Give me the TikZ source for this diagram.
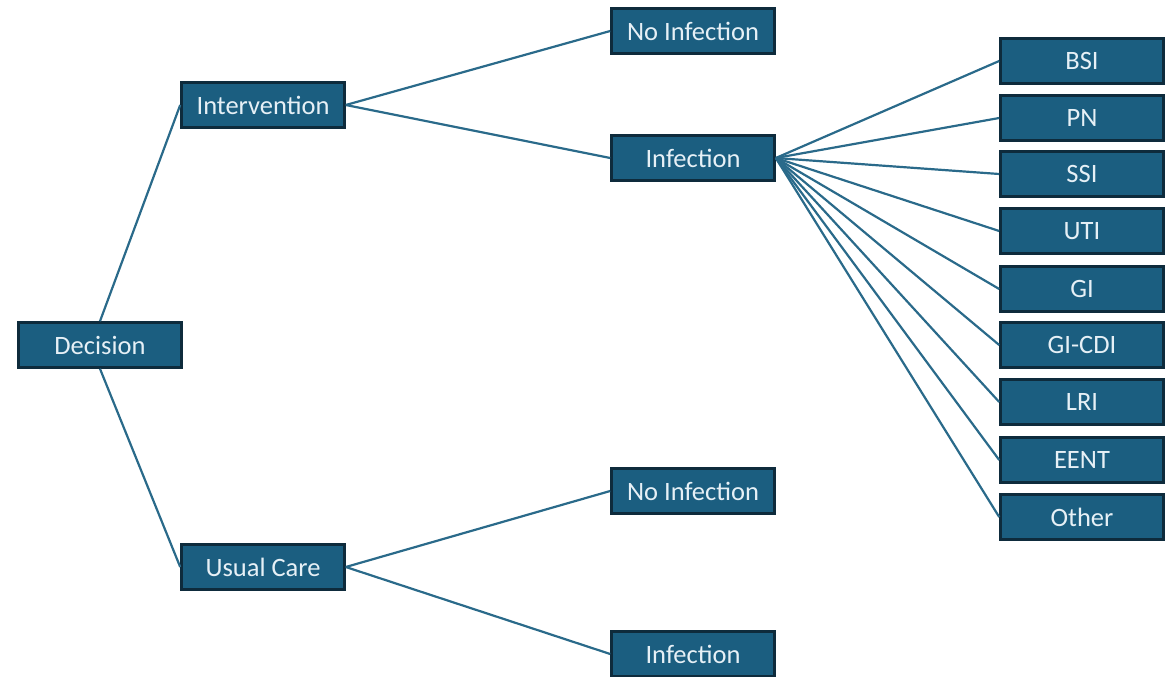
\documentclass[tikz,border=0pt]{standalone}
\usepackage{fontspec}
\setmainfont{Carlito}
\definecolor{boxfill}{HTML}{1B5E80}
\definecolor{boxedge}{HTML}{0E2B3C}
\definecolor{boxtext}{HTML}{E6F0F6}
\definecolor{linkc}{HTML}{2A6A8A}
\tikzset{
  box/.style={draw=boxedge, line width=2.6pt, fill=boxfill, text=boxtext,
    minimum width=163pt, minimum height=45pt, inner sep=0pt,
    font=\fontsize{26.5}{30}\selectfont},
  link/.style={draw=linkc, line width=2.2pt},
}
\begin{document}
\begin{tikzpicture}[x=1pt,y=-1pt]
\useasboundingbox (0,0) rectangle (1171,677);
\node[box] (dec) at (100,345) {Decision};
\node[box] (int) at (263,105) {Intervention};
\node[box] (uc) at (263,567) {Usual Care};
\node[box] (ni1) at (693,31) {No Infection};
\node[box] (in1) at (693,158) {Infection};
\node[box] (ni2) at (693,491) {No Infection};
\node[box] (in2) at (693,654) {Infection};
\node[box] (bsi) at (1082,61) {BSI};
\node[box] (pn) at (1082,118) {PN};
\node[box] (ssi) at (1082,174) {SSI};
\node[box] (uti) at (1082,231) {UTI};
\node[box] (gi) at (1082,289) {GI};
\node[box] (gicdi) at (1082,345) {GI-CDI};
\node[box] (lri) at (1082,402) {LRI};
\node[box] (eent) at (1082,460) {EENT};
\node[box] (oth) at (1082,517) {Other};
\draw[link] (dec.north) -- (int.west);
\draw[link] (dec.south) -- (uc.west);
\draw[link] (int.east) -- (ni1.west);
\draw[link] (int.east) -- (in1.west);
\draw[link] (uc.east) -- (ni2.west);
\draw[link] (uc.east) -- (in2.west);
\foreach \t in {bsi,pn,ssi,uti,gi,gicdi,lri,eent,oth}
  \draw[link] (in1.east) -- (\t.west);
\end{tikzpicture}
\end{document}
